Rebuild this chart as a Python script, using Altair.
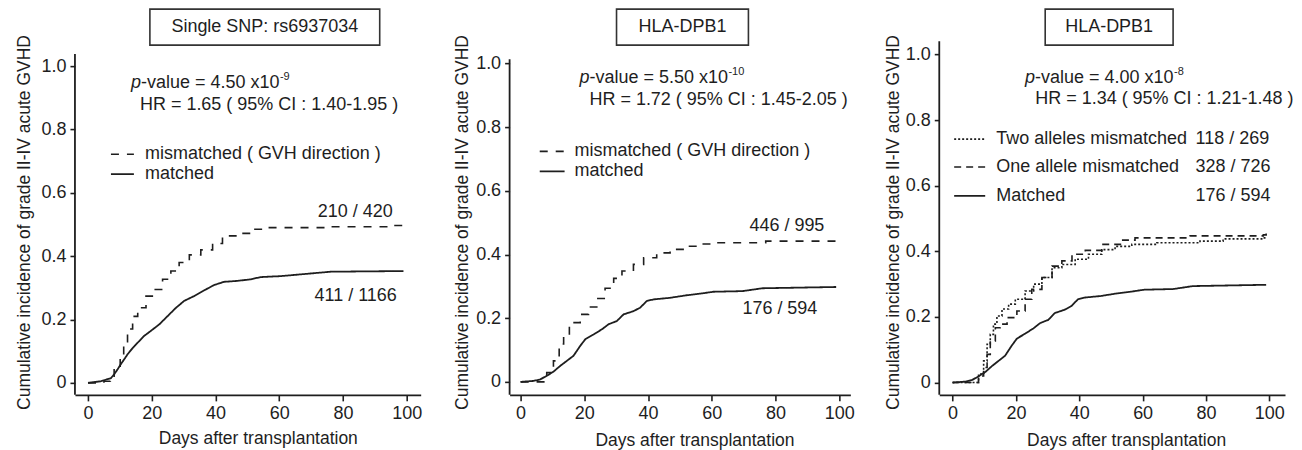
import altair as alt
import pandas as pd

# ---------------- data ----------------
# Panel 1: Single SNP rs6937034
p1_mis_days = [0, 5, 7, 8.2, 10.1, 11.2, 12.4, 14.0, 15.6, 18.2, 20.8, 23.4, 26.0, 28.6, 31.8, 35.4, 39.1, 42.2, 46.4, 51.1, 56.3, 75, 95, 99]
p1_mis_vals = [0, 0.005, 0.012, 0.048, 0.085, 0.13, 0.17, 0.21, 0.237, 0.274, 0.295, 0.327, 0.353, 0.38, 0.404, 0.42, 0.44, 0.464, 0.472, 0.485, 0.49, 0.493, 0.497, 0.50]
p1_mat_days = [0, 4, 7.2, 8.2, 9.3, 10.3, 11.4, 12.4, 14.0, 15.6, 17.6, 19.7, 22.4, 25.0, 27.6, 30.2, 33.3, 37.0, 39.6, 42.7, 46.9, 51.1, 54.2, 60.5, 76.2, 99]
p1_mat_vals = [0, 0.005, 0.015, 0.027, 0.043, 0.059, 0.075, 0.09, 0.11, 0.127, 0.148, 0.164, 0.185, 0.211, 0.237, 0.259, 0.274, 0.295, 0.309, 0.319, 0.322, 0.327, 0.334, 0.337, 0.351, 0.353]

# Panel 2: HLA-DPB1 (mismatched vs matched)
p2_mis_days = [0, 8.2, 10.3, 12.1, 13.5, 15.3, 16.1, 18.7, 21.3, 23.9, 26.5, 29.2, 31.8, 35.4, 38.6, 42.7, 46.9, 51.6, 56.3, 61.2, 76.9, 99]
p2_mis_vals = [0, 0.029, 0.066, 0.119, 0.147, 0.178, 0.186, 0.212, 0.235, 0.262, 0.294, 0.325, 0.348, 0.369, 0.39, 0.405, 0.416, 0.426, 0.433, 0.437, 0.442, 0.447]
p2_mat_days = [0, 4.1, 6.2, 8.2, 10.3, 12.4, 14.5, 16.6, 18.7, 20.3, 22.9, 25.5, 27.6, 30.2, 32.3, 35.4, 37.5, 39.6, 41.7, 46.9, 52.1, 56.3, 60.5, 69.6, 75.9, 99]
p2_mat_vals = [0, 0.003, 0.008, 0.019, 0.032, 0.05, 0.066, 0.082, 0.113, 0.134, 0.149, 0.165, 0.181, 0.191, 0.212, 0.222, 0.233, 0.254, 0.259, 0.264, 0.272, 0.277, 0.283, 0.285, 0.294, 0.298]

# Panel 3: HLA-DPB1 (two / one allele mismatched, matched)
p3_two_days = [0, 8.2, 9.8, 10.9, 11.9, 12.9, 14.0, 15.6, 17.7, 19.8, 22.9, 25.6, 28.2, 31.4, 34.5, 38.7, 42.9, 47.1, 51.3, 56.6, 64.5, 78.1, 85.4, 98.1, 99]
p3_two_vals = [0, 0.026, 0.066, 0.117, 0.147, 0.178, 0.203, 0.224, 0.239, 0.254, 0.279, 0.30, 0.32, 0.35, 0.36, 0.376, 0.391, 0.405, 0.415, 0.421, 0.426, 0.431, 0.438, 0.441, 0.441]
p3_one_days = [0, 8.2, 9.8, 10.9, 11.9, 13.5, 15.0, 17.2, 20.3, 22.9, 25.0, 28.2, 31.4, 34.5, 37.7, 41.9, 47.1, 53.4, 57.6, 75, 98.1, 99]
p3_one_vals = [0, 0.02, 0.046, 0.086, 0.127, 0.167, 0.178, 0.198, 0.218, 0.254, 0.284, 0.32, 0.355, 0.371, 0.391, 0.403, 0.421, 0.434, 0.441, 0.447, 0.45, 0.455]
p3_mat_days = p2_mat_days
p3_mat_vals = p2_mat_vals

x_ticks = [0, 20, 40, 60, 80, 100]
y_ticks = [0, 0.2, 0.4, 0.6, 0.8, 1.0]

FONT = "Liberation Sans"
INK = "#1e1e1e"
H = 354
FS = 18


def panel(cfg):
    xdom = cfg["xdom"]
    ydom = cfg["ydom"]
    names = [s[0] for s in cfg["series"]]
    dashes = [s[3] for s in cfg["series"]]
    xs = alt.Scale(domain=xdom, nice=False, zero=False)
    ys = alt.Scale(domain=ydom, nice=False, zero=False)

    def X(axis=False):
        if axis:
            ax = alt.Axis(values=x_ticks, grid=False, tickSize=6, tickWidth=1.6, tickColor=INK,
                          domainColor=INK, domainWidth=1.8, labelFont=FONT, labelFontSize=18,
                          labelColor=INK, labelPadding=4, labelFlush=False,
                          title="Days after transplantation", titleFont=FONT, titleFontSize=17.5,
                          titleFontWeight="normal", titleColor=INK, titleX=cfg["xtitle_x"],
                          titleY=cfg["xtitle_y"], titleBaseline="alphabetic", titleAlign="center")
            return alt.X("day:Q", scale=xs, axis=ax)
        return alt.X("day:Q", scale=xs)

    def Y(axis=False):
        if axis:
            ax = alt.Axis(values=y_ticks, grid=False, domain=False, tickSize=5, tickWidth=1.6,
                          tickColor=INK, labelFont=FONT, labelFontSize=18, labelColor=INK,
                          labelPadding=4, labelFlush=False,
                          labelExpr="datum.value == 0 ? '0' : format(datum.value, '.1f')",
                          title="Cumulative incidence of grade II-IV acute GVHD", titleFont=FONT,
                          titleFontSize=17.5, titleFontWeight="normal", titleColor=INK,
                          titleX=cfg["ytitle_x"], titleY=cfg["ytitle_y"], titleAngle=270,
                          titleAlign="center", titleBaseline="middle")
            return alt.Y("value:Q", scale=ys, axis=ax)
        return alt.Y("value:Q", scale=ys)

    dash_enc = alt.StrokeDash("series:N", scale=alt.Scale(domain=names, range=dashes), legend=None)

    step_rows, lin_rows = [], []
    for name, days, vals, _ in cfg["series"]:
        for d, v in zip(days, vals):
            (lin_rows if name == "mat" else step_rows).append({"series": name, "day": d, "value": v})
    curves_step = alt.Chart(pd.DataFrame(step_rows)).mark_line(
        interpolate="step-after", strokeWidth=1.6, color=INK
    ).encode(x=X(True), y=Y(True), strokeDash=dash_enc)
    curves_lin = alt.Chart(pd.DataFrame(lin_rows)).mark_line(
        interpolate="linear", strokeWidth=1.8, color=INK
    ).encode(x=X(), y=Y(), strokeDash=dash_enc)

    # y axis line
    yline = alt.Chart(pd.DataFrame({"day": [xdom[0]], "value": [ydom[0]], "value2": [cfg["yaxis_top"]]})).mark_rule(
        color=INK, strokeWidth=1.8).encode(x=X(), y=Y(), y2="value2:Q")

    # legend samples and labels
    leg = pd.DataFrame(cfg["legend"], columns=["series", "label", "value"])
    leg["day"] = cfg["leg_x0"]
    leg["day2"] = cfg["leg_x1"]
    leg["tday"] = cfg["leg_tx"]
    leg_lines = alt.Chart(leg).mark_rule(strokeWidth=1.6, color=INK).encode(
        x=X(), x2="day2:Q", y=Y(), strokeDash=dash_enc)
    leg_text = alt.Chart(leg).mark_text(align="left", baseline="middle", font=FONT, fontSize=FS,
                                        color=INK).encode(
        x=alt.X("tday:Q", scale=xs), y=Y(), text="label:N")

    # counts
    cnt = pd.DataFrame(cfg["counts"], columns=["label", "day", "value"])
    cnt_text = alt.Chart(cnt).mark_text(align=cfg["count_align"], baseline="middle", font=FONT,
                                        fontSize=FS, color=INK).encode(x=X(), y=Y(), text="label:N")

    # p-value / HR annotation
    pdx, pdy = cfg["p_pos"]
    ann_p = pd.DataFrame({"day": [pdx], "value": [pdy], "t": ["p"]})
    ann_rest = pd.DataFrame({"day": [pdx], "value": [pdy], "t": ["-value = " + cfg["pval"] + " x10"]})
    ann_exp = pd.DataFrame({"day": [pdx], "value": [pdy], "t": [cfg["pexp"]]})
    hx, hy = cfg["hr_pos"]
    ann_hr = pd.DataFrame({"day": [hx], "value": [hy], "t": [cfg["hr"]]})
    t_p = alt.Chart(ann_p).mark_text(align="left", baseline="alphabetic", font=FONT, fontSize=FS,
                                     fontStyle="italic", color=INK).encode(x=X(), y=Y(), text="t:N")
    t_rest = alt.Chart(ann_rest).mark_text(align="left", baseline="alphabetic", font=FONT, fontSize=FS,
                                           dx=10, color=INK).encode(x=X(), y=Y(), text="t:N")
    t_exp = alt.Chart(ann_exp).mark_text(align="left", baseline="alphabetic", font=FONT, fontSize=11,
                                         dx=149, dy=-8, color=INK).encode(x=X(), y=Y(), text="t:N")
    t_hr = alt.Chart(ann_hr).mark_text(align="left", baseline="alphabetic", font=FONT, fontSize=FS,
                                       color=INK).encode(x=X(), y=Y(), text="t:N")

    # boxed panel title
    bx0, bx1 = cfg["box_x"]
    tb = pd.DataFrame({"t": [cfg["title"]]})
    box = alt.Chart(tb).mark_rect(fill="white", stroke="#333333", strokeWidth=1.6).encode(
        x=alt.value(bx0), x2=alt.value(bx1), y=alt.value(-32), y2=alt.value(4))
    box_text = alt.Chart(tb).mark_text(align="center", baseline="middle", font=FONT, fontSize=FS,
                                       color=INK).encode(
        x=alt.value((bx0 + bx1) / 2), y=alt.value(-14), text="t:N")

    return alt.layer(curves_step, curves_lin, yline, leg_lines, leg_text, cnt_text, t_p, t_rest,
                     t_exp, t_hr, box, box_text).properties(width=cfg["width"], height=H)


MIS = "mismatched ( GVH direction )"
cfg1 = dict(
    width=346, xdom=[-4.1, 104.4], ydom=[-0.0379, 1.0789], yaxis_top=1.038,
    series=[("mis", p1_mis_days, p1_mis_vals, [8, 8]), ("mat", p1_mat_days, p1_mat_vals, [1, 0])],
    legend=[("mis", MIS, 0.722), ("mat", "matched", 0.659)],
    leg_x0=7.2, leg_x1=14.4, leg_tx=17.9,
    counts=[("210 / 420", 95.6, 0.539), ("411 / 1166", 96.9, 0.274)], count_align="right",
    p_pos=(13.5, 0.931), pval="4.50", pexp="-9", hr_pos=(16.3, 0.863),
    hr="HR = 1.65 ( 95% CI : 1.40-1.95 )",
    title="Single SNP: rs6937034", box_x=(75, 305),
    xtitle_x=183, xtitle_y=49, ytitle_x=-50, ytitle_y=181,
)
cfg2 = dict(
    width=341, xdom=[-3.45, 103.45], ydom=[-0.0408, 1.070], yaxis_top=1.013,
    series=[("mis", p2_mis_days, p2_mis_vals, [8, 8]), ("mat", p2_mat_days, p2_mat_vals, [1, 0])],
    legend=[("mis", MIS, 0.724), ("mat", "matched", 0.661)],
    leg_x0=6.0, leg_x1=13.8, leg_tx=16.9,
    counts=[("446 / 995", 95.3, 0.489), ("176 / 594", 93.1, 0.229)], count_align="right",
    p_pos=(18.5, 0.938), pval="5.50", pexp="-10", hr_pos=(21.6, 0.870),
    hr="HR = 1.72 ( 95% CI : 1.45-2.05 )",
    title="HLA-DPB1", box_x=(107, 239),
    xtitle_x=185, xtitle_y=51, ytitle_x=-47, ytitle_y=181,
)
cfg3 = dict(
    width=346, xdom=[-4.2, 104.95], ydom=[-0.0375, 1.0405], yaxis_top=1.0405,
    series=[("two", p3_two_days, p3_two_vals, [2, 2]), ("one", p3_one_days, p3_one_vals, [7, 5]),
            ("mat", p3_mat_days, p3_mat_vals, [1, 0])],
    legend=[("two", "Two alleles mismatched", 0.742), ("one", "One allele mismatched", 0.657),
            ("mat", "Matched", 0.569)],
    leg_x0=0.5, leg_x1=10.3, leg_tx=13.8,
    counts=[("118 / 269", 76.7, 0.742), ("328 / 726", 76.7, 0.657), ("176 / 594", 76.7, 0.569)],
    count_align="left",
    p_pos=(22.9, 0.913), pval="4.00", pexp="-8", hr_pos=(26.1, 0.850),
    hr="HR = 1.34 ( 95% CI : 1.21-1.48 )",
    title="HLA-DPB1", box_x=(106, 234),
    xtitle_x=187, xtitle_y=51, ytitle_x=-46, ytitle_y=181,
)

chart = alt.hconcat(panel(cfg1), panel(cfg2), panel(cfg3), spacing=89, bounds="flush").properties(
    padding={"left": 7, "top": 0, "right": 0, "bottom": 0}
).configure_view(stroke=None).resolve_scale(x="independent", y="independent", strokeDash="independent")

chart.save("out.html", embed_options={"renderer": "svg", "actions": False})
